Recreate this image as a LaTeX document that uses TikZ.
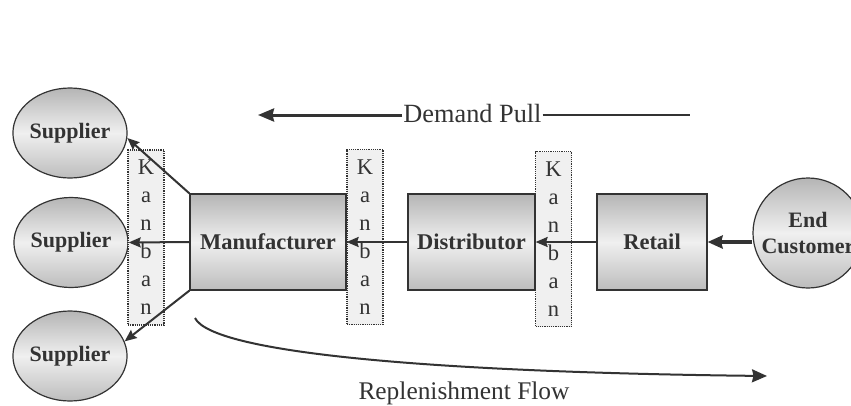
\documentclass[tikz,border=0pt]{standalone}
\usepackage{fontspec}
\setmainfont{Liberation Serif}
\usetikzlibrary{shapes.geometric,arrows.meta}
\definecolor{ink}{HTML}{333333}
\tikzset{
  shade3/.style={top color=gray!58, bottom color=gray!52, middle color=gray!12},
  party/.style={ellipse, draw=ink, line width=1.2pt, shade3,
    minimum width=112pt, minimum height=90pt, inner sep=0pt,
    font=\fontsize{22}{26}\selectfont\bfseries, text=ink},
  stage/.style={rectangle, draw=ink, line width=1.2pt, shade3,
    minimum height=96pt, inner sep=0pt,
    font=\fontsize{22.5}{26}\selectfont\bfseries, text=ink},
  kanban/.style={rectangle, draw=ink, densely dotted, line width=1.2pt, fill=gray!12,
    minimum width=36pt, minimum height=175pt, inner sep=0pt, align=center,
    font=\fontsize{22.5}{28}\selectfont, text=ink},
  flow/.style={draw=ink, line width=2pt, -{Stealth[length=12pt,width=10pt,inset=1.5pt]}},
  caption/.style={font=\fontsize{26.3}{30}\selectfont, text=ink, inner sep=1pt}
}
\begin{document}
\begin{tikzpicture}[x=1pt,y=-1pt]
\clip (0,0) rectangle (851,405);
\fill[white] (0,0) rectangle (851,405);

% suppliers and end customer
\node[party] (sup1) at (70,133) {Supplier};
\node[party] (sup2) at (71,242.5) {Supplier};
\node[party] (sup3) at (70,356) {Supplier};
\node[party, circle, minimum size=110pt, align=center] (cust) at (808,233) {End\\Customer};

% chain stages
\node[stage, minimum width=156pt] (man) at (268,242) {Manufacturer};
\node[stage, minimum width=127pt] (dist) at (471.5,242) {Distributor};
\node[stage, minimum width=110pt] (ret) at (652,242) {Retail};

% kanban cards
\node[kanban] (k1) at (146,237.5) {K\\a\\n\\b\\a\\n};
\node[kanban] (k2) at (365,237) {K\\a\\n\\b\\a\\n};
\node[kanban] (k3) at (553.5,239) {K\\a\\n\\b\\a\\n};

% pull signals
\draw[flow] (man.west) -- (sup2.east);
\draw[flow] (man.north west) -- (sup1.-5);
\draw[flow] (man.south west) -- (sup3.15);
\draw[flow] (dist.west) -- (man.east);
\draw[flow] (ret.west) -- (dist.east);
\draw[draw=ink, line width=3.5pt, -{Stealth[length=15pt,width=13pt,inset=1.5pt]}]
  (cust.west |- ret.east) -- (ret.east);

% demand pull banner
\node[caption, anchor=base] (dp) at (472.5,122) {Demand Pull};
\coordinate (dpL) at (258,115);
\coordinate (dpR) at (690,115);
\draw[draw=ink, line width=3pt, -{Stealth[length=16pt,width=13pt,inset=1.5pt]}]
  (dp.west |- dpL) -- (dpL);
\draw[draw=ink, line width=2pt] (dp.east |- dpR) -- (dpR);

% replenishment flow
\node[caption, font=\fontsize{25.4}{30}\selectfont, anchor=base] (rep) at (464,399) {Replenishment Flow};
\coordinate (repS) at (195,318);
\coordinate (repE) at (767,376);
\draw[draw=ink, line width=2pt, -{Stealth[length=15pt,width=13pt,inset=1.5pt]}]
  (repS) .. controls (212,352) and (420,372) .. (repE);
\end{tikzpicture}
\end{document}
